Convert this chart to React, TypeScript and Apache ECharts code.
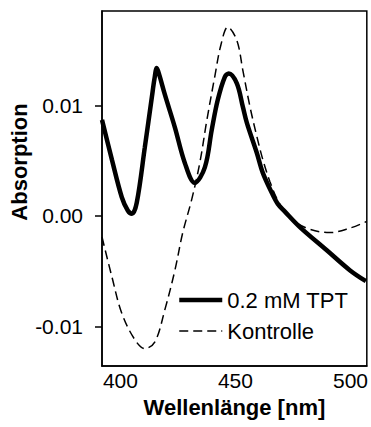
import React, { useEffect, useRef } from "react";
import * as echarts from "echarts";

const tptWavelength = [392, 396.3, 400.6, 403.2, 405.0, 407.1, 410.6, 413.7, 414.8, 415.8, 417.0, 419.3, 423.7, 428.0, 432.3, 436.7, 439.7, 442.3, 445.4, 447.1, 450.6, 453.2, 455.0, 459.3, 461.9, 465.8, 468.4, 471.5, 478.0, 489.7, 499.7, 506.7];
const tptAbsorption = [0.0087, 0.0051, 0.0017, 0.0005, 0.0002, 0.0012, 0.0062, 0.0108, 0.0124, 0.0134, 0.0127, 0.011, 0.008, 0.0048, 0.003, 0.0044, 0.0078, 0.0105, 0.0126, 0.0129, 0.012, 0.0099, 0.0084, 0.0057, 0.0039, 0.0021, 0.0011, 0.0004, -0.001, -0.0031, -0.0049, -0.0059];

const kontrolleWavelength = [392, 396.3, 400.6, 406.3, 410.6, 415.0, 419.3, 423.7, 427.1, 431.0, 434.5, 437.6, 441.0, 443.7, 446.7, 450.6, 453.2, 456.3, 459.3, 461.9, 465.0, 468.4, 471.5, 475.8, 482.3, 491.0, 499.7, 507];
const kontrolleAbsorption = [-0.0019, -0.0055, -0.0088, -0.0112, -0.012, -0.0114, -0.0085, -0.0049, -0.0015, 0.0015, 0.0048, 0.0087, 0.0126, 0.0155, 0.0171, 0.0159, 0.0132, 0.0099, 0.0072, 0.0051, 0.0031, 0.0014, 0.0004, -0.0005, -0.0012, -0.0015, -0.0011, -0.0005];

const xTicks = [400, 450, 500];
const yTicks = [-0.01, 0, 0.01];
const seriesNames = ["0.2 mM TPT", "Kontrolle"];

const FONT = "'Liberation Sans', Arial, Helvetica, sans-serif";

export default function App() {
  const ref = useRef<HTMLDivElement>(null);
  useEffect(() => {
    if (!ref.current) return;
    const chart = echarts.init(ref.current, null, { renderer: "svg" });
    const zip = (xs: number[], ys: number[]) => xs.map((x, i) => [x, ys[i]]);
    chart.setOption({
      animation: false,
      backgroundColor: "#fff",
      grid: {
        left: 102,
        top: 11,
        width: 265,
        height: 355,
        show: true,
        borderColor: "#000",
        borderWidth: 1.5,
        backgroundColor: "transparent",
      },
      legend: {
        orient: "vertical",
        left: 177,
        top: 287,
        itemWidth: 43,
        itemHeight: 14,
        itemGap: 5,
        padding: 0,
        data: seriesNames,
        itemStyle: { opacity: 0 },
        lineStyle: { width: "inherit" },
        textStyle: { fontFamily: FONT, fontSize: 22, color: "#000", lineHeight: 26 },
      },
      xAxis: {
        type: "value",
        min: 392,
        max: 507.1,
        splitLine: { show: false },
        axisLine: { show: true, onZero: false, lineStyle: { color: "#000", width: 1.5 } },
        axisTick: { show: false },
        axisLabel: {
          customValues: xTicks,
          margin: 4,
          color: "#000",
          fontFamily: FONT,
          fontSize: 21,
          formatter: (v: number) => String(Math.round(v)),
        },
        name: "Wellenlänge [nm]",
        nameLocation: "middle",
        nameGap: 30,
        nameTextStyle: { fontFamily: FONT, fontSize: 22, fontWeight: "bold", color: "#000" },
      },
      yAxis: {
        type: "value",
        min: -0.013575,
        max: 0.018552,
        splitLine: { show: false },
        axisLine: { show: true, onZero: false, lineStyle: { color: "#000", width: 1.5 } },
        axisTick: {
          show: true,
          customValues: yTicks,
          inside: false,
          length: 7,
          lineStyle: { color: "#000", width: 1.5 },
        },
        axisLabel: {
          customValues: yTicks,
          margin: 19,
          color: "#000",
          fontFamily: FONT,
          fontSize: 21,
          formatter: (v: number) => (Math.abs(v) < 1e-9 ? "0.00" : v.toFixed(2)),
        },
      },
      graphic: [
        {
          type: "text",
          x: 19,
          y: 162,
          rotation: Math.PI / 2,
          style: {
            text: "Absorption",
            font: `bold 22px ${FONT}`,
            fill: "#000",
            textAlign: "center",
            textVerticalAlign: "middle",
          },
        },
      ],
      series: [
        {
          name: seriesNames[0],
          type: "line",
          data: zip(tptWavelength, tptAbsorption),
          smooth: 0.35,
          symbol: "none",
          lineStyle: { color: "#000", width: 4.5 },
          itemStyle: { color: "#000", opacity: 0 },
          z: 3,
        },
        {
          name: seriesNames[1],
          type: "line",
          data: zip(kontrolleWavelength, kontrolleAbsorption),
          smooth: 0.35,
          symbol: "none",
          lineStyle: { color: "#000", width: 1.5, type: [9, 5] },
          itemStyle: { color: "#000", opacity: 0 },
          z: 2,
        },
      ],
    });
    return () => chart.dispose();
  }, []);
  return (
    <div
      ref={ref}
      style={{ position: "fixed", left: 0, top: 0, width: 371, height: 427, background: "#fff" }}
    />
  );
}
